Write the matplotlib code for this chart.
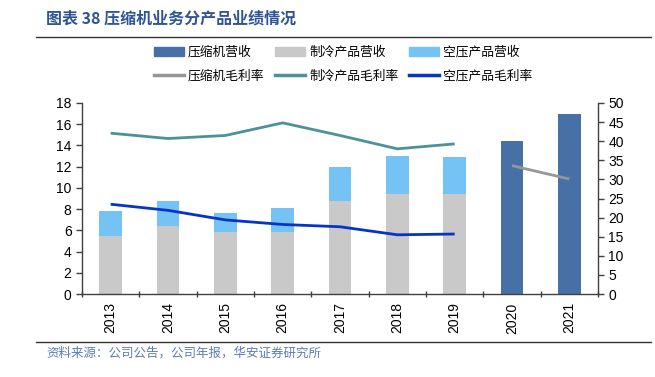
import matplotlib
matplotlib.use("Agg")
import matplotlib.pyplot as plt
from matplotlib.lines import Line2D
from matplotlib.patches import Patch
import numpy as np

plt.rcParams['font.family'] = ['Liberation Sans', 'Noto Sans CJK SC', 'DejaVu Sans']

years = ['2013', '2014', '2015', '2016', '2017', '2018', '2019', '2020', '2021']
compressor_rev = [None, None, None, None, None, None, None, 14.42, 16.93]
refrig_rev = [5.5, 6.44, 5.8, 5.8, 8.8, 9.45, 9.45, None, None]
aircomp_total = [7.85, 8.8, 7.66, 8.13, 12.0, 13.0, 12.94, None, None]
compressor_gm = [None, None, None, None, None, None, None, 33.6, 30.1]
refrig_gm = [42.1, 40.7, 41.5, 44.8, 41.5, 38.0, 39.3, None, None]
aircomp_gm = [23.5, 21.9, 19.4, 18.2, 17.6, 15.5, 15.7, None, None]

c_comp = '#4670A6'
c_ref = '#C9C9C9'
c_air = '#75C3F5'
c_comp_l = '#969696'
c_ref_l = '#4D9199'
c_air_l = '#0535C8'
axis_c = '#404040'

fig = plt.figure(figsize=(6.55, 3.77), dpi=100)
ax = fig.add_axes([82/655, 1-294/377, (598-82)/655, (294-103)/377])
ax2 = ax.twinx()

x = np.arange(len(years))
w = 0.4

def arr(v):
    return np.array([np.nan if a is None else a for a in v], dtype=float)

cr = arr(compressor_rev)
rr = arr(refrig_rev)
at = arr(aircomp_total)
air = at - rr

ax.bar(x, cr, w, color=c_comp, zorder=2)
ax.bar(x, rr, w, color=c_ref, zorder=2)
ax.bar(x, air, w, bottom=rr, color=c_air, zorder=2)

lw = 2.0
ax2.plot(x, arr(compressor_gm), color=c_comp_l, lw=lw, solid_capstyle='butt')
ax2.plot(x, arr(refrig_gm), color=c_ref_l, lw=lw, solid_capstyle='butt')
ax2.plot(x, arr(aircomp_gm), color=c_air_l, lw=lw, solid_capstyle='butt')

ax.set_xlim(-0.5, len(years)-0.5)
ax.set_ylim(0, 18)
ax.set_yticks(np.arange(0, 19, 2))
ax2.set_ylim(0, 50)
ax2.set_yticks(np.arange(0, 51, 5))

ax.set_xticks(np.arange(-0.5, len(years), 1.0))
ax.set_xticklabels([])
ax.set_xticks(x, minor=True)
ax.set_xticklabels(years, minor=True, rotation=90)
ax.tick_params(axis='x', which='minor', length=0, pad=6, labelsize=10, colors='black')
ax.tick_params(axis='x', which='major', length=4, direction='inout', color=axis_c, width=1)
ax.tick_params(axis='y', length=4, direction='out', color=axis_c, labelsize=10, width=1)
ax2.tick_params(axis='y', length=4, direction='out', color=axis_c, labelsize=10, width=1)

for a in (ax, ax2):
    a.spines['top'].set_visible(False)
    for s in ('left', 'right', 'bottom'):
        a.spines[s].set_color(axis_c)
        a.spines[s].set_linewidth(1.0)
ax.spines['right'].set_visible(False)
ax2.spines['left'].set_visible(False)
ax2.spines['bottom'].set_visible(False)

handles = [
    Patch(color=c_comp), Line2D([], [], color=c_comp_l, lw=2.5),
    Patch(color=c_ref), Line2D([], [], color=c_ref_l, lw=2.5),
    Patch(color=c_air), Line2D([], [], color=c_air_l, lw=2.5),
]
labels = ['压缩机营收', '压缩机毛利率', '制冷产品营收', '制冷产品毛利率', '空压产品营收', '空压产品毛利率']
fig.legend(handles, labels, ncol=3, loc='center', bbox_to_anchor=(343/655, 1-64/377),
           frameon=False, prop={'family': ['Noto Sans CJK SC'], 'size': 9.2},
           handlelength=2.4, handleheight=0.7,
           handletextpad=0.3, columnspacing=0.8, labelspacing=0.85)

title_c = '#2F5496'
fig.text(46/655, 1-19/377, '图表 38 压缩机业务分产品业绩情况', fontsize=11.5, fontweight='bold',
         color=title_c, va='center', ha='left', family=['Noto Sans CJK SC'])
fig.add_artist(Line2D([36/655, 651/655], [1-37/377, 1-37/377], color='#333333', lw=1.0))
fig.add_artist(Line2D([36/655, 651/655], [1-342/377, 1-342/377], color='#333333', lw=1.0))
fig.text(46/655, 1-353/377, '资料来源：公司公告，公司年报，华安证券研究所', fontsize=9,
         color='#5B7DB5', va='center', ha='left', family=['Noto Sans CJK SC'])

fig.savefig('out.png', dpi=100)
